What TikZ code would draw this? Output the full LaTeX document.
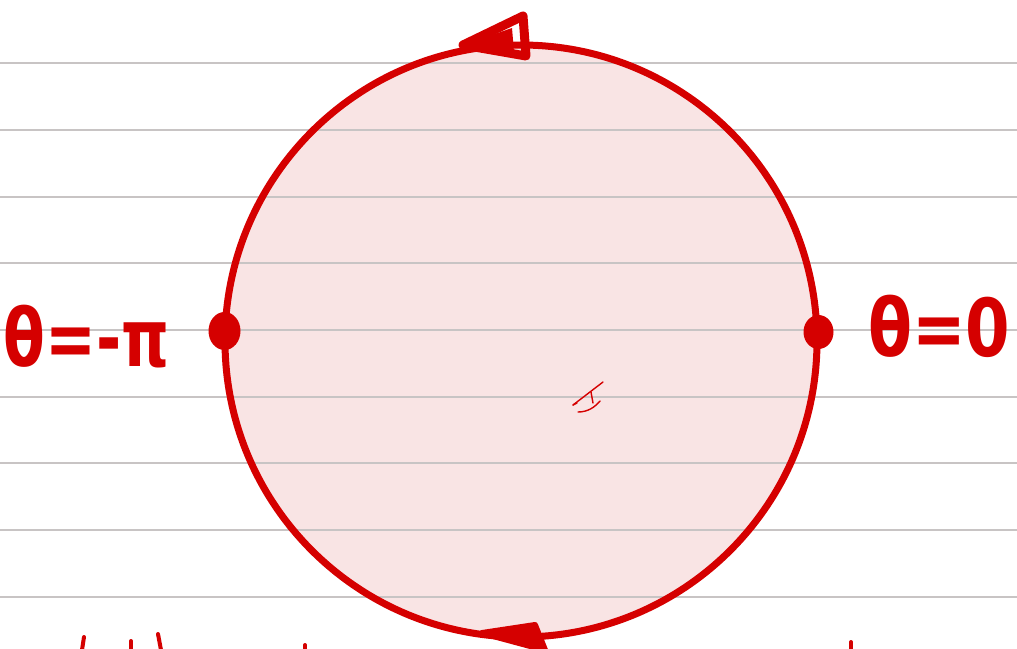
\documentclass[tikz,border=0pt]{standalone}
\usepackage{fontspec}
\usetikzlibrary{shapes.geometric}
\newfontfamily\hand{DejaVu Sans Bold}
\definecolor{inkred}{RGB}{213,0,0}
\definecolor{diskfill}{RGB}{249,228,228}
\definecolor{rule}{RGB}{200,196,196}
\tikzset{
  ink/.style={draw=inkred, line width=7pt, line cap=round, line join=round},
  thinink/.style={draw=inkred, line width=1.4pt, line cap=round},
  ruleline/.style={draw=rule, line width=2pt},
  label/.style={text=inkred, font=\hand\fontsize{80}{80}\selectfont, inner sep=0pt, transform shape},
  dot/.style={fill=inkred}
}
\begin{document}
\begin{tikzpicture}[x=1pt,y=-1pt]
\useasboundingbox (0,0) rectangle (1017,648);
\fill[white] (0,0) rectangle (1017,648);
% disk fill
\fill[diskfill] (521,341) circle[radius=296pt];
% ruled lines
\foreach \yy in {63,130,197,263,330,397,463,530,597}
  \draw[ruleline] (0,\yy) -- (1017,\yy);
% circle
\node[circle, draw=inkred, line width=7pt, minimum size=592pt, inner sep=0pt] (c) at (521,341) {};
% dots
\node[ellipse, dot, minimum width=32pt, minimum height=38pt, inner sep=0pt] (dl) at ([yshift=10pt,xshift=3pt]c.west) {};
\node[ellipse, dot, minimum width=30pt, minimum height=34pt, inner sep=0pt] (dr) at ([yshift=9pt,xshift=-2pt]c.east) {};
% labels
\node[label, xscale=0.76, anchor=east] (ll) at (170,337) {θ=-π};
\node[label, xscale=0.80, anchor=west] (lr) at (868,326) {θ=0};
% top arrowhead
\coordinate (ta) at (463,45);
\coordinate (tb) at (523,16);
\coordinate (tc) at (526,56);
\fill[inkred] (ta) -- (512,28) -- (514,52) -- cycle;
\draw[ink, line width=9pt] (ta) -- (tb) -- (tc) -- cycle;
% bottom arrowhead
\coordinate (ba) at (482,633);
\coordinate (bb) at (535,625);
\coordinate (bc) at (545,650);
\fill[inkred] (ba) -- (bb) -- (bc) -- cycle;
\draw[ink, line width=6pt] (ba) -- (bb) -- (bc) -- cycle;
% small mark
\draw[thinink] (603,382) -- (573,405);
\draw[thinink] (573,405) -- (577,403);
\draw[thinink] (591,392) -- (593,403);
\draw[thinink] (578,412) .. controls (588,412) and (595,407) .. (600,401);
% cut-off strokes at bottom edge
\draw[ink, line width=4pt] (84,637) -- (82,650);
\draw[ink, line width=4pt] (131,641) -- (131,650);
\draw[ink, line width=4pt] (158,634) -- (161,650);
\draw[ink, line width=4pt] (305,645) -- (305,650);
\draw[ink, line width=4pt] (851,642) -- (851,650);
\end{tikzpicture}
\end{document}
